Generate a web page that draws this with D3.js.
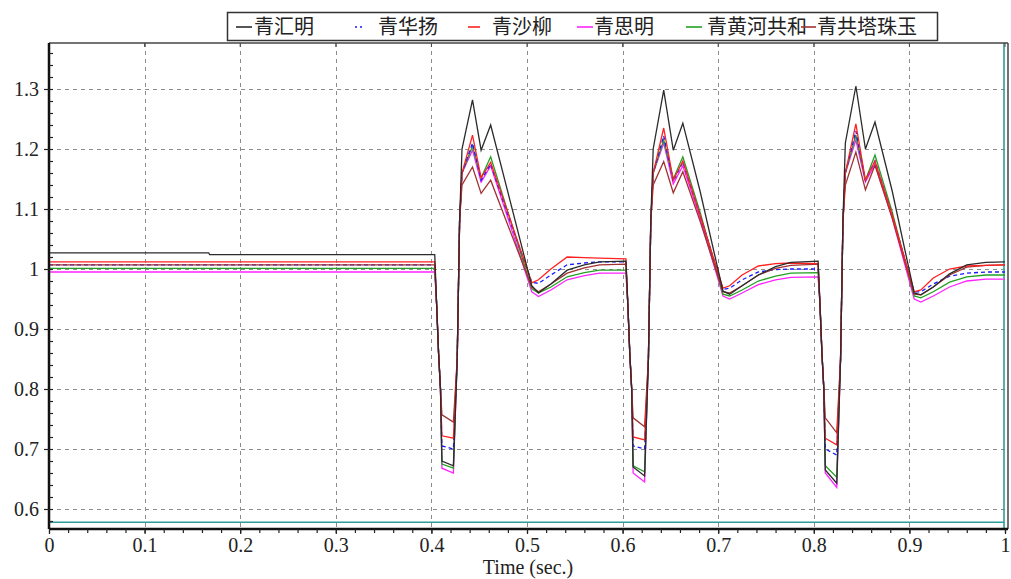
<!DOCTYPE html>
<html><head><meta charset="utf-8">
<script src="https://cdn.jsdelivr.net/npm/d3@7/dist/d3.min.js"></script>
<style>body{margin:0;background:#fff}svg{display:block}</style>
</head><body>
<svg id="chart" width="1011" height="579"></svg>
<script>
// ---------- DATA ----------
const seriesNames = ["青汇明", "青华扬", "青沙柳", "青思明", "青黄河共和", "青共塔珠玉"];
const xTickValues = [0, 0.1, 0.2, 0.3, 0.4, 0.5, 0.6, 0.7, 0.8, 0.9, 1];
const yTickValues = [0.6, 0.7, 0.8, 0.9, 1, 1.1, 1.2, 1.3];
const xLabel = "Time (sec.)";

const time = [
  0, 0.167, 0.168, 0.4035,
  0.4055, 0.4075, 0.4095, 0.411, 0.423, 0.427, 0.4295, 0.432, 0.443, 0.452, 0.462, 0.48, 0.505, 0.512, 0.525, 0.542, 0.56, 0.576,
  0.6035, 0.6055, 0.6075, 0.6095, 0.611, 0.623, 0.627, 0.6295, 0.632, 0.643, 0.653, 0.663, 0.681, 0.705, 0.712, 0.725, 0.742, 0.76, 0.776,
  0.8045, 0.8065, 0.8085, 0.8105, 0.812, 0.824, 0.828, 0.8305, 0.833, 0.844, 0.854, 0.864, 0.882, 0.905, 0.912, 0.925, 0.942, 0.96, 0.98, 1.0
];
const qingHuiming = [
  1.027, 1.027, 1.024, 1.024,
  0.94, 0.86, 0.80, 0.680, 0.672, 0.85, 1.08, 1.20, 1.282, 1.198, 1.240, 1.128, 0.972, 0.960, 0.975, 0.998, 1.007, 1.012,
  1.013, 0.94, 0.86, 0.80, 0.670, 0.655, 0.85, 1.08, 1.20, 1.298, 1.198, 1.243, 1.130, 0.963, 0.958, 0.972, 0.990, 1.004, 1.011,
  1.013, 0.94, 0.86, 0.80, 0.665, 0.643, 0.85, 1.08, 1.21, 1.305, 1.200, 1.245, 1.130, 0.960, 0.957, 0.970, 0.992, 1.007, 1.011, 1.012
];
const qingHuayang = [
  1.007, 1.007, 1.007, 1.007,
  0.94, 0.86, 0.80, 0.705, 0.700, 0.85, 1.08, 1.16, 1.210, 1.148, 1.175, 1.090, 0.978, 0.976, 0.990, 1.007, 1.010, 1.012,
  1.012, 0.94, 0.86, 0.80, 0.705, 0.700, 0.85, 1.08, 1.16, 1.222, 1.146, 1.178, 1.090, 0.966, 0.968, 0.982, 0.995, 0.999, 1.000,
  1.000, 0.94, 0.86, 0.80, 0.700, 0.690, 0.85, 1.08, 1.16, 1.230, 1.148, 1.180, 1.090, 0.962, 0.962, 0.975, 0.988, 0.993, 0.995, 0.995
];
const qingShaliu = [
  1.012, 1.012, 1.012, 1.012,
  0.94, 0.86, 0.80, 0.722, 0.718, 0.85, 1.08, 1.16, 1.223, 1.152, 1.178, 1.094, 0.977, 0.982, 1.000, 1.020, 1.019, 1.018,
  1.017, 0.94, 0.86, 0.80, 0.720, 0.715, 0.85, 1.08, 1.16, 1.235, 1.148, 1.180, 1.090, 0.968, 0.972, 0.990, 1.005, 1.009, 1.010,
  1.009, 0.94, 0.86, 0.80, 0.718, 0.707, 0.85, 1.08, 1.16, 1.242, 1.148, 1.180, 1.090, 0.962, 0.965, 0.985, 1.000, 1.005, 1.006, 1.007
];
const qingSiming = [
  0.995, 0.995, 0.995, 0.995,
  0.94, 0.86, 0.80, 0.668, 0.660, 0.85, 1.08, 1.16, 1.198, 1.145, 1.172, 1.085, 0.962, 0.954, 0.965, 0.982, 0.989, 0.993,
  0.993, 0.94, 0.86, 0.80, 0.660, 0.645, 0.85, 1.08, 1.16, 1.210, 1.142, 1.172, 1.085, 0.955, 0.950, 0.960, 0.974, 0.982, 0.986,
  0.987, 0.94, 0.86, 0.80, 0.660, 0.636, 0.85, 1.08, 1.16, 1.215, 1.145, 1.175, 1.085, 0.950, 0.945, 0.955, 0.970, 0.980, 0.983, 0.983
];
const qingHuanghe = [
  1.001, 1.001, 1.001, 1.001,
  0.94, 0.86, 0.80, 0.675, 0.668, 0.85, 1.08, 1.16, 1.205, 1.152, 1.187, 1.095, 0.967, 0.960, 0.970, 0.987, 0.994, 0.998,
  0.998, 0.94, 0.86, 0.80, 0.672, 0.662, 0.85, 1.08, 1.16, 1.215, 1.150, 1.187, 1.095, 0.958, 0.955, 0.965, 0.980, 0.988, 0.993,
  0.994, 0.94, 0.86, 0.80, 0.672, 0.653, 0.85, 1.08, 1.16, 1.223, 1.148, 1.190, 1.095, 0.955, 0.952, 0.962, 0.978, 0.987, 0.990, 0.990
];
const qingGongta = [
  1.007, 1.007, 1.007, 1.007,
  0.94, 0.86, 0.80, 0.757, 0.745, 0.85, 1.08, 1.14, 1.170, 1.126, 1.148, 1.073, 0.970, 0.962, 0.975, 0.993, 1.002, 1.007,
  1.008, 0.94, 0.86, 0.80, 0.752, 0.737, 0.85, 1.08, 1.14, 1.179, 1.127, 1.162, 1.080, 0.962, 0.960, 0.972, 0.990, 1.001, 1.006,
  1.008, 0.94, 0.86, 0.80, 0.752, 0.727, 0.85, 1.08, 1.14, 1.195, 1.132, 1.173, 1.085, 0.958, 0.957, 0.970, 0.990, 1.003, 1.006, 1.007
];
const referenceLevel = [0.578];

// ---------- STYLE / LAYOUT ----------
const seriesValues = [qingHuiming, qingHuayang, qingShaliu, qingSiming, qingHuanghe, qingGongta];
const seriesColors = ["#2b2b2b", "#1a1aff", "#ff2020", "#ff22ff", "#22a022", "#a03232"];
const seriesDash = [null, "4,3", null, null, null, null];
const drawOrder = [3, 4, 1, 5, 2, 0];

const W = 1011, H = 579;
const L = 49, R = 1005, T = 43, B = 529, frameRight = 1008;
const svg = d3.select("#chart");
svg.append("rect").attr("width", W).attr("height", H).attr("fill", "#fff");

const x = d3.scaleLinear().domain([0, 1]).range([L, R]);
const y = d3.scaleLinear().domain([1.3 - (B - 89) / 600, 1.3 + (89 - T) / 600]).range([B, T]);

const serif = "'Liberation Serif','Times New Roman',serif";

// grid
const grid = svg.append("g").attr("stroke", "#8c8c8c").attr("stroke-width", 1).attr("stroke-dasharray", "4,4");
grid.selectAll("line.v").data(xTickValues.filter(d => d > 0 && d < 1)).join("line")
  .attr("x1", d => Math.round(x(d)) + 0.5).attr("x2", d => Math.round(x(d)) + 0.5)
  .attr("y1", T).attr("y2", B);
grid.selectAll("line.h").data(yTickValues).join("line")
  .attr("y1", d => Math.round(y(d)) + 0.5).attr("y2", d => Math.round(y(d)) + 0.5)
  .attr("x1", L).attr("x2", frameRight);

// reference teal lines
svg.append("line").attr("x1", L).attr("x2", x(1) - 1).attr("y1", y(referenceLevel[0])).attr("y2", y(referenceLevel[0]))
  .attr("stroke", "#2e9e9a").attr("stroke-width", 1.6);
svg.append("line").attr("x1", x(1) - 1).attr("x2", x(1) - 1).attr("y1", T).attr("y2", B)
  .attr("stroke", "#2e9e9a").attr("stroke-width", 1.6);

// series
const line = d3.line().x(d => x(d[0])).y(d => y(d[1]));
const plot = svg.append("g");
drawOrder.forEach(i => {
  const pts = time.map((t, k) => [t, seriesValues[i][k]]);
  plot.append("path").datum(pts).attr("d", line)
    .attr("fill", "none").attr("stroke", seriesColors[i]).attr("stroke-width", 1.3)
    .attr("stroke-dasharray", seriesDash[i]).attr("stroke-linejoin", "miter");
});

// frame (top & right)
svg.append("line").attr("x1", L).attr("x2", frameRight).attr("y1", T).attr("y2", T).attr("stroke", "#444").attr("stroke-width", 1.5);
svg.append("line").attr("x1", frameRight).attr("x2", frameRight).attr("y1", T).attr("y2", B).attr("stroke", "#444").attr("stroke-width", 1.5);
svg.append("g").selectAll("line").data(xTickValues).join("line")
  .attr("x1", d => x(d)).attr("x2", d => x(d)).attr("y1", T).attr("y2", T + 4).attr("stroke", "#444");

// axes
const fmt = d3.format("~g");
const xMinor = d3.range(0, 1.0001, 0.02);
const yMinor = d3.range(0.58, 1.37, 0.02);

const xAxisG = svg.append("g").attr("transform", `translate(0,${B})`)
  .call(d3.axisBottom(x).tickValues(xTickValues).tickFormat(fmt).tickSize(5).tickPadding(4));
svg.append("g").attr("transform", `translate(0,${B})`)
  .call(d3.axisBottom(x).tickValues(xMinor).tickFormat("").tickSize(4))
  .call(g => g.select(".domain").remove());
const yAxisG = svg.append("g").attr("transform", `translate(${L},0)`)
  .call(d3.axisLeft(y).tickValues(yTickValues).tickFormat(fmt).tickSize(5).tickPadding(5));
svg.append("g").attr("transform", `translate(${L},0)`)
  .call(d3.axisLeft(y).tickValues(yMinor).tickFormat("").tickSize(-4))
  .call(g => g.select(".domain").remove());

[xAxisG, yAxisG].forEach(g => {
  g.select(".domain").attr("stroke", "#111").attr("stroke-width", 2.5);
  g.selectAll("text").attr("font-family", serif).attr("font-size", 20).attr("fill", "#222");
});
svg.selectAll(".tick line").attr("stroke", "#222").attr("stroke-width", 1.2);
yAxisG.select(".domain").attr("d", `M0,${T}V${B}`);
xAxisG.select(".domain").attr("d", `M${L},0H${frameRight}`);

svg.append("text").attr("x", 528).attr("y", 574).attr("text-anchor", "middle")
  .attr("font-family", serif).attr("font-size", 20).attr("fill", "#222").text(xLabel);

// legend
const lg = svg.append("g");
lg.append("rect").attr("x", 227.5).attr("y", 12.5).attr("width", 710).attr("height", 28)
  .attr("fill", "#fff").attr("stroke", "#333").attr("stroke-width", 1.5);
const legendPos = [[236, 252, 254], [355, 364, 378], [468, 480, 492], [577, 593, 594], [686, 702, 707], [801, 816, 817]];
seriesNames.forEach((name, i) => {
  const p = legendPos[i];
  lg.append("line").attr("x1", p[0]).attr("x2", p[1]).attr("y1", 27).attr("y2", 27)
    .attr("stroke", seriesColors[i]).attr("stroke-width", 1.6).attr("stroke-dasharray", i === 1 ? "2,3" : null);
  lg.append("text").attr("x", p[2]).attr("y", 34).attr("font-family", "'Noto Sans CJK SC', sans-serif")
    .attr("font-size", 20).attr("fill", "#222").text(name);
});
</script>
</body></html>
